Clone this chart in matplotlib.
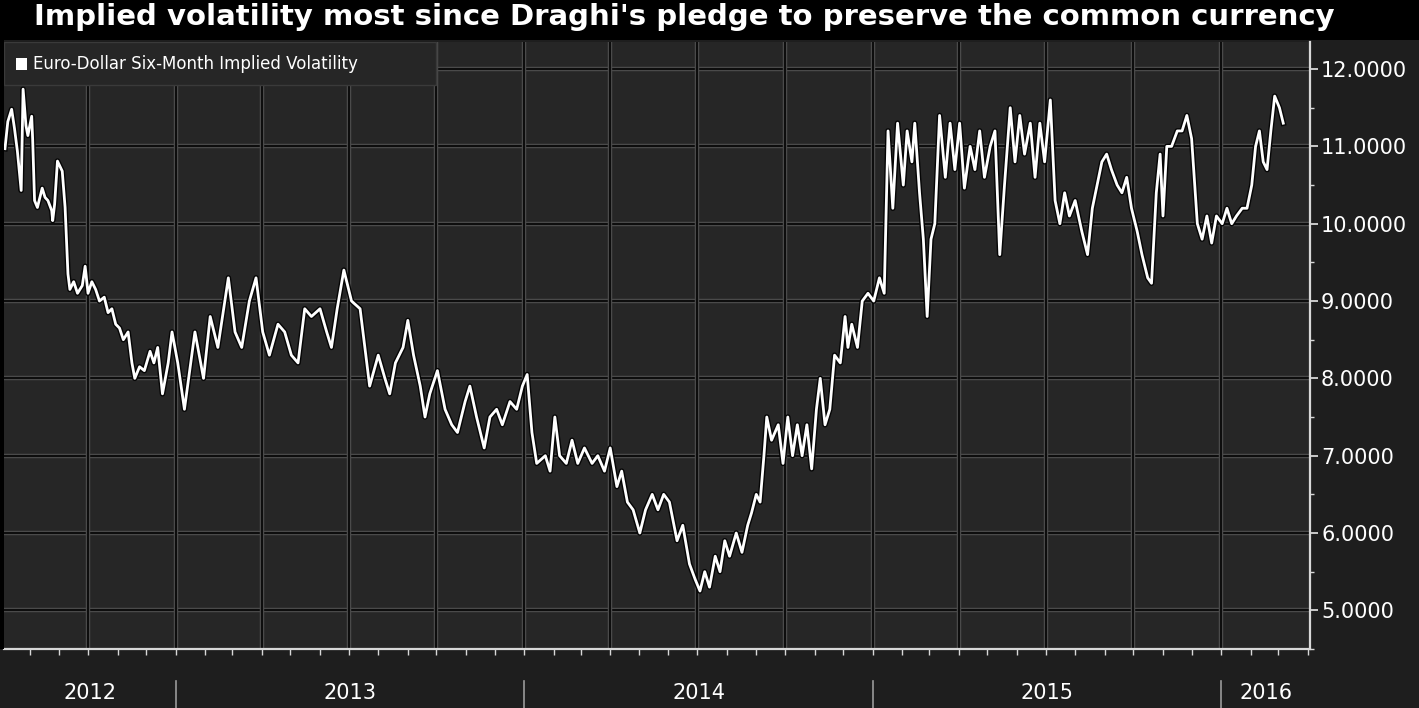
import matplotlib
matplotlib.use("Agg")
import matplotlib.pyplot as plt
import matplotlib.dates as mdates
import matplotlib.patheffects as pe
from matplotlib.patches import Rectangle
from matplotlib.transforms import blended_transform_factory
import pandas as pd
import numpy as np

title = "Implied volatility most since Draghi's pledge to preserve the common currency"
series_name = "Euro-Dollar Six-Month Implied Volatility"

dates = [
    "2012-07-06", "2012-07-09", "2012-07-13", "2012-07-16", "2012-07-19", "2012-07-23", "2012-07-25",
    "2012-07-28", "2012-07-30", "2012-08-03", "2012-08-04", "2012-08-06", "2012-08-09", "2012-08-14",
    "2012-08-17", "2012-08-20", "2012-08-24", "2012-08-25", "2012-08-27", "2012-08-30", "2012-09-04",
    "2012-09-07", "2012-09-10", "2012-09-12", "2012-09-16", "2012-09-20", "2012-09-25", "2012-09-28",
    "2012-10-01", "2012-10-05", "2012-10-09", "2012-10-13", "2012-10-18", "2012-10-22", "2012-10-26",
    "2012-10-30", "2012-11-03", "2012-11-07", "2012-11-12", "2012-11-16", "2012-11-19", "2012-11-24",
    "2012-11-29", "2012-12-05", "2012-12-09", "2012-12-13", "2012-12-18", "2012-12-24", "2012-12-28",
    "2013-01-03", "2013-01-10", "2013-01-21", "2013-01-30", "2013-02-06", "2013-02-14", "2013-02-25",
    "2013-03-04", "2013-03-11", "2013-03-19", "2013-03-26", "2013-04-02", "2013-04-09", "2013-04-18",
    "2013-04-25", "2013-05-02", "2013-05-09", "2013-05-16", "2013-05-23", "2013-06-01", "2013-06-08",
    "2013-06-13", "2013-06-19", "2013-06-26", "2013-07-04", "2013-07-13", "2013-07-19", "2013-07-23",
    "2013-08-01", "2013-08-08", "2013-08-13", "2013-08-19", "2013-08-27", "2013-09-01", "2013-09-07",
    "2013-09-14", "2013-09-19", "2013-09-24", "2013-10-02", "2013-10-10", "2013-10-17", "2013-10-23",
    "2013-10-31", "2013-11-05", "2013-11-12", "2013-11-20", "2013-11-26", "2013-12-03", "2013-12-09",
    "2013-12-17", "2013-12-24", "2013-12-30", "2014-01-04", "2014-01-09", "2014-01-14", "2014-01-23",
    "2014-01-28", "2014-02-02", "2014-02-07", "2014-02-14", "2014-02-20", "2014-02-26", "2014-03-05",
    "2014-03-13", "2014-03-19", "2014-03-26", "2014-04-01", "2014-04-08", "2014-04-13", "2014-04-19",
    "2014-04-25", "2014-05-02", "2014-05-08", "2014-05-15", "2014-05-21", "2014-05-27", "2014-06-02",
    "2014-06-10", "2014-06-16", "2014-06-23", "2014-06-29", "2014-07-04", "2014-07-09", "2014-07-14",
    "2014-07-20", "2014-07-25", "2014-07-30", "2014-08-04", "2014-08-11", "2014-08-17", "2014-08-23",
    "2014-08-27", "2014-09-01", "2014-09-05", "2014-09-09", "2014-09-12", "2014-09-17", "2014-09-24",
    "2014-09-29", "2014-10-04", "2014-10-09", "2014-10-14", "2014-10-19", "2014-10-24", "2014-10-29",
    "2014-11-03", "2014-11-07", "2014-11-12", "2014-11-17", "2014-11-22", "2014-11-28", "2014-12-03",
    "2014-12-06", "2014-12-10", "2014-12-16", "2014-12-21", "2014-12-27", "2015-01-02", "2015-01-08",
    "2015-01-13", "2015-01-17", "2015-01-22", "2015-01-27", "2015-02-02", "2015-02-06", "2015-02-11",
    "2015-02-14", "2015-02-19", "2015-02-23", "2015-02-27", "2015-03-03", "2015-03-07", "2015-03-12",
    "2015-03-18", "2015-03-23", "2015-03-28", "2015-04-02", "2015-04-07", "2015-04-13", "2015-04-18",
    "2015-04-23", "2015-04-28", "2015-05-04", "2015-05-09", "2015-05-14", "2015-05-19", "2015-05-25",
    "2015-05-30", "2015-06-04", "2015-06-09", "2015-06-15", "2015-06-20", "2015-06-25", "2015-06-30",
    "2015-07-06", "2015-07-11", "2015-07-16", "2015-07-21", "2015-07-26", "2015-08-01", "2015-08-08",
    "2015-08-14", "2015-08-19", "2015-08-24", "2015-08-29", "2015-09-03", "2015-09-08", "2015-09-14",
    "2015-09-19", "2015-09-24", "2015-09-29", "2015-10-05", "2015-10-10", "2015-10-16", "2015-10-20",
    "2015-10-25", "2015-10-29", "2015-11-01", "2015-11-05", "2015-11-10", "2015-11-16", "2015-11-21",
    "2015-11-26", "2015-12-01", "2015-12-07", "2015-12-12", "2015-12-17", "2015-12-22", "2015-12-27",
    "2016-01-02", "2016-01-07", "2016-01-12", "2016-01-17", "2016-01-23", "2016-01-28", "2016-02-02",
    "2016-02-06", "2016-02-10", "2016-02-14", "2016-02-18", "2016-02-22", "2016-02-26", "2016-03-02",
    "2016-03-06",
]

values = [
    10.97, 11.32, 11.48, 11.23, 10.94, 10.43, 11.74,
    11.27, 11.14, 11.39, 11.10, 10.30, 10.21, 10.46,
    10.34, 10.30, 10.17, 10.04, 10.25, 10.81, 10.68,
    10.21, 9.35, 9.15, 9.25, 9.10, 9.20, 9.45,
    9.10, 9.25, 9.15, 9.00, 9.05, 8.85, 8.90,
    8.70, 8.65, 8.50, 8.60, 8.20, 8.00, 8.15,
    8.10, 8.35, 8.20, 8.40, 7.80, 8.20, 8.60,
    8.20, 7.60, 8.60, 8.00, 8.80, 8.40, 9.30,
    8.60, 8.40, 9.00, 9.30, 8.60, 8.30, 8.70,
    8.60, 8.30, 8.20, 8.90, 8.80, 8.90, 8.60,
    8.40, 8.90, 9.40, 9.00, 8.90, 8.30, 7.90,
    8.30, 8.00, 7.80, 8.20, 8.40, 8.75, 8.30,
    7.90, 7.50, 7.80, 8.10, 7.60, 7.40, 7.30,
    7.70, 7.90, 7.50, 7.10, 7.50, 7.60, 7.40,
    7.70, 7.60, 7.90, 8.05, 7.30, 6.90, 7.00,
    6.80, 7.50, 7.00, 6.90, 7.20, 6.90, 7.10,
    6.90, 7.00, 6.80, 7.10, 6.60, 6.80, 6.40,
    6.30, 6.00, 6.30, 6.50, 6.30, 6.50, 6.40,
    5.90, 6.10, 5.60, 5.40, 5.25, 5.50, 5.30,
    5.70, 5.50, 5.90, 5.70, 6.00, 5.75, 6.10,
    6.26, 6.50, 6.40, 7.00, 7.50, 7.20, 7.40,
    6.90, 7.50, 7.00, 7.40, 7.00, 7.40, 6.83,
    7.60, 8.00, 7.40, 7.60, 8.30, 8.20, 8.80,
    8.40, 8.70, 8.40, 9.00, 9.10, 9.00, 9.30,
    9.10, 11.20, 10.20, 11.30, 10.50, 11.20, 10.80,
    11.30, 10.40, 9.80, 8.80, 9.80, 10.00, 11.40,
    10.60, 11.30, 10.70, 11.30, 10.46, 11.00, 10.70,
    11.20, 10.60, 11.00, 11.20, 9.60, 10.50, 11.50,
    10.80, 11.40, 10.90, 11.30, 10.60, 11.30, 10.80,
    11.60, 10.30, 10.00, 10.40, 10.10, 10.30, 9.90,
    9.60, 10.20, 10.50, 10.80, 10.90, 10.70, 10.50,
    10.40, 10.60, 10.20, 9.90, 9.60, 9.30, 9.23,
    10.40, 10.90, 10.10, 11.00, 11.00, 11.20, 11.20,
    11.40, 11.10, 10.00, 9.80, 10.10, 9.75, 10.10,
    10.00, 10.20, 10.00, 10.10, 10.20, 10.20, 10.50,
    11.00, 11.20, 10.80, 10.70, 11.20, 11.65, 11.50,
    11.30,
]

year_labels = ["2012", "2013", "2014", "2015", "2016"]
y_ticks = [5, 6, 7, 8, 9, 10, 11, 12]

x = pd.to_datetime(dates)

W, H = 1419, 708
fig = plt.figure(figsize=(W / 100, H / 100), dpi=100, facecolor="#1e1e1e")

# title bar
fig.patches.append(Rectangle((0, 1 - 40 / H), 1, 40 / H, transform=fig.transFigure,
                             facecolor="black", edgecolor="none", zorder=0))
fig.patches.append(Rectangle((0, 59 / H), 4 / W, 1 - 99 / H, transform=fig.transFigure,
                             facecolor="black", edgecolor="none", zorder=0))
fig.text(684 / W, 1 - 17 / H, title, color="white", fontsize=21, fontweight="bold",
         ha="center", va="center", family="DejaVu Sans")

left, right = 4 / W, 1310 / W
bottom, top = 59 / H, 666 / H
ax = fig.add_axes([left, bottom, right - left, top - bottom], facecolor="#262626")

xmin = pd.Timestamp("2012-07-05")
xmax = pd.Timestamp("2016-04-03")
ax.set_xlim(xmin, xmax)
ax.set_ylim(4.618, 12.35)

# grid lines (dark with light edges)
grid_pe = [pe.Stroke(linewidth=3.2, foreground="#4a4a4a"), pe.Normal()]
for yv in y_ticks:
    ax.axhline(yv, color="#0c0c0c", lw=1.4, zorder=1, path_effects=grid_pe)
quarters = pd.date_range("2012-10-01", "2016-01-01", freq="QS")
for q in quarters:
    ax.axvline(q, color="#0c0c0c", lw=1.4, zorder=1, path_effects=grid_pe)

# data line
ax.plot(x, values, color="white", lw=2.0, zorder=3, solid_joinstyle="round",
        path_effects=[pe.Stroke(linewidth=4.0, foreground="#050505"), pe.Normal()])

# spines
for s in ["top", "left"]:
    ax.spines[s].set_visible(False)
for s in ["right", "bottom"]:
    ax.spines[s].set_color("#d8d8d8")
    ax.spines[s].set_linewidth(1.6)
    ax.spines[s].set_zorder(6)

# y axis on right
ax.yaxis.tick_right()
ax.set_yticks(y_ticks)
ax.set_yticklabels([f"{v:.4f}" for v in y_ticks])
ax.set_yticks(np.arange(4.5, 12.5, 0.5), minor=True)
ax.tick_params(axis="y", which="major", direction="out", length=6, width=1.3,
               colors="#d8d8d8", labelcolor="white", labelsize=15, pad=2)
ax.tick_params(axis="y", which="minor", direction="out", length=3, width=1.0, colors="#d8d8d8")
ax.tick_params(axis="y", which="both", left=False)

# x axis: monthly ticks, no labels
ax.xaxis.set_major_locator(mdates.MonthLocator())
ax.xaxis.set_major_formatter(plt.NullFormatter())
ax.tick_params(axis="x", which="major", direction="out", length=4, width=1.0, colors="#d8d8d8")

# year labels and separators
trans = blended_transform_factory(ax.transData, ax.transAxes)
ay_label = (649 - 693) / 607
bounds = [xmin] + [pd.Timestamp(f"{y}-01-01") for y in (2013, 2014, 2015, 2016)] + [xmax]
for i, lab in enumerate(year_labels):
    mid = bounds[i] + (bounds[i + 1] - bounds[i]) / 2
    ax.text(mid, ay_label, lab, transform=trans, color="white", fontsize=15,
            ha="center", va="center", clip_on=False)
for b in bounds[1:-1]:
    ax.plot([b, b], [(649 - 681) / 607, (649 - 708) / 607], transform=trans,
            color="#9a9a9a", lw=1.2, clip_on=False)

# legend box
ax.add_patch(Rectangle((0, (649 - 85) / 607), (436 - 4) / 1306, (85 - 42) / 607,
                       transform=ax.transAxes, facecolor="#262626", edgecolor="#3a3a3a",
                       lw=1.0, zorder=4))
ax.add_patch(Rectangle(((16 - 4) / 1306, (649 - 70) / 607), 11 / 1306, 12 / 607,
                       transform=ax.transAxes, facecolor="white", edgecolor="none", zorder=5))
ax.text((33 - 4) / 1306, (649 - 64) / 607, series_name, transform=ax.transAxes,
        color="white", fontsize=12, ha="left", va="center", zorder=5)

fig.savefig("out.png", dpi=100, facecolor=fig.get_facecolor())
